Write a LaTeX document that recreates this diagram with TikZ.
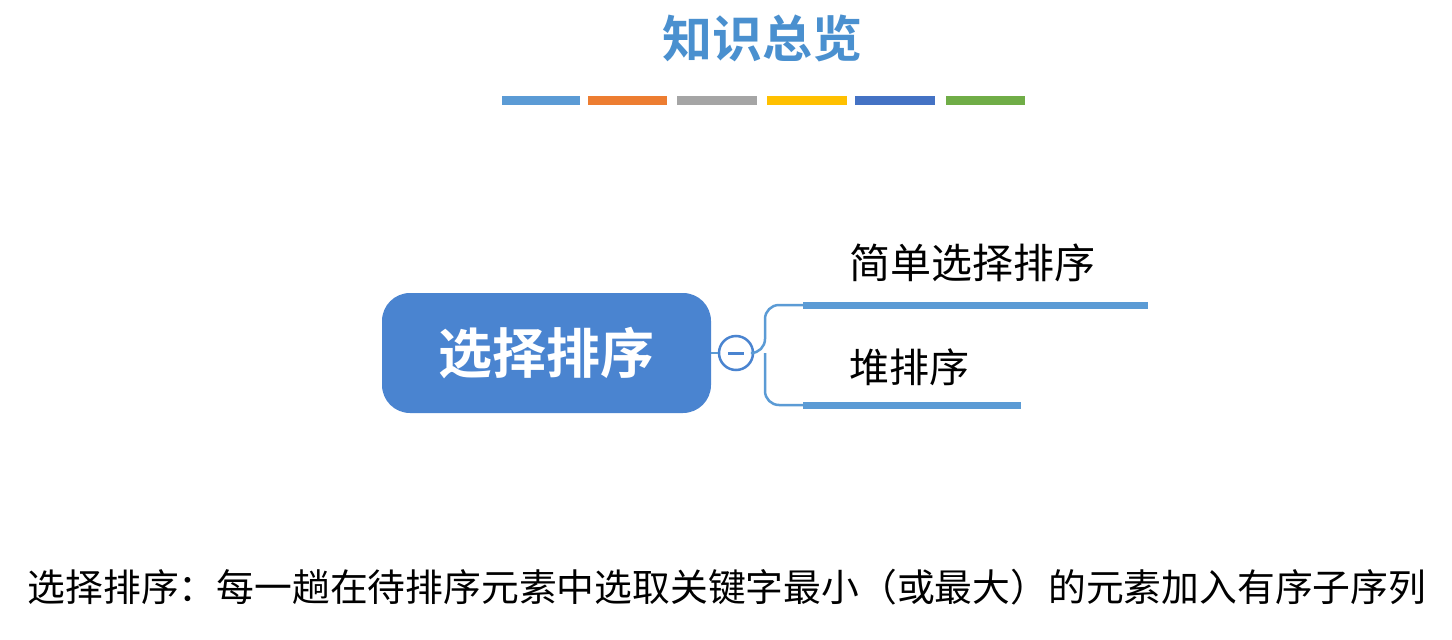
\documentclass[tikz,border=0pt]{standalone}
\usepackage{fontspec}
\newfontfamily\cjk{Noto Sans CJK SC}
\newfontfamily\cjkb{Noto Sans CJK SC Bold}
\definecolor{tblue}{HTML}{4A90CF}
\definecolor{mblue}{HTML}{4A84D0}
\definecolor{lblue}{HTML}{5B9BD5}
\definecolor{c1}{HTML}{5B9BD5}
\definecolor{c2}{HTML}{ED7D31}
\definecolor{c3}{HTML}{A5A5A5}
\definecolor{c4}{HTML}{FFC000}
\definecolor{c5}{HTML}{4472C4}
\definecolor{c6}{HTML}{70AD47}
\begin{document}
\begin{tikzpicture}[x=1pt,y=-1pt,
  bar/.style={line width=9pt},
  leaf/.style={line width=7pt,lblue},
  lbl/.style={font=\cjk\fontsize{41}{44}\selectfont,anchor=west,inner sep=0}]
\useasboundingbox[fill=white] (0,0) rectangle (1452,640);
\node[font=\cjkb\fontsize{50}{54}\selectfont,text=tblue] (title) at (762,38) {知识总览};
\foreach \a/\b/\c in {502/580/c1,588/667/c2,677/757/c3,767/847/c4,855/935/c5,946/1025/c6}
  \draw[bar,color=\c] (\a,100) -- (\b,100);
\node[draw=none,fill=mblue,rounded corners=28pt,minimum width=329pt,minimum height=120pt,
  text=white,font=\cjkb\fontsize{54}{58}\selectfont] (main) at (546.5,353) {选择排序};
\node[circle,draw=mblue,line width=2.5pt,fill=white,minimum size=34pt,inner sep=0] (c) at (736,353) {};
\draw[mblue,line width=3pt] (728,353) -- (744,353);
\draw[lblue,line width=2.5pt] (main.east) -- (c.west);
\coordinate (t) at (803,305);
\coordinate (b) at (803,405);
\draw[lblue,line width=2.5pt,rounded corners=14pt] (c.east) -- (765,353) |- (t);
\draw[lblue,line width=2.5pt,rounded corners=14pt] (765,353) |- (b);
\draw[leaf] (t) -- (1148,305);
\draw[leaf] (b) -- (1021,405);
\node[lbl] (l1) at (849,263) {简单选择排序};
\node[lbl,font=\cjk\fontsize{40}{44}\selectfont] (l2) at (849,367) {堆排序};
\node[font=\cjk\fontsize{37.8}{40}\selectfont] (desc) at (727,587) {选择排序：每一趟在待排序元素中选取关键字最小（或最大）的元素加入有序子序列};
\end{tikzpicture}
\end{document}
